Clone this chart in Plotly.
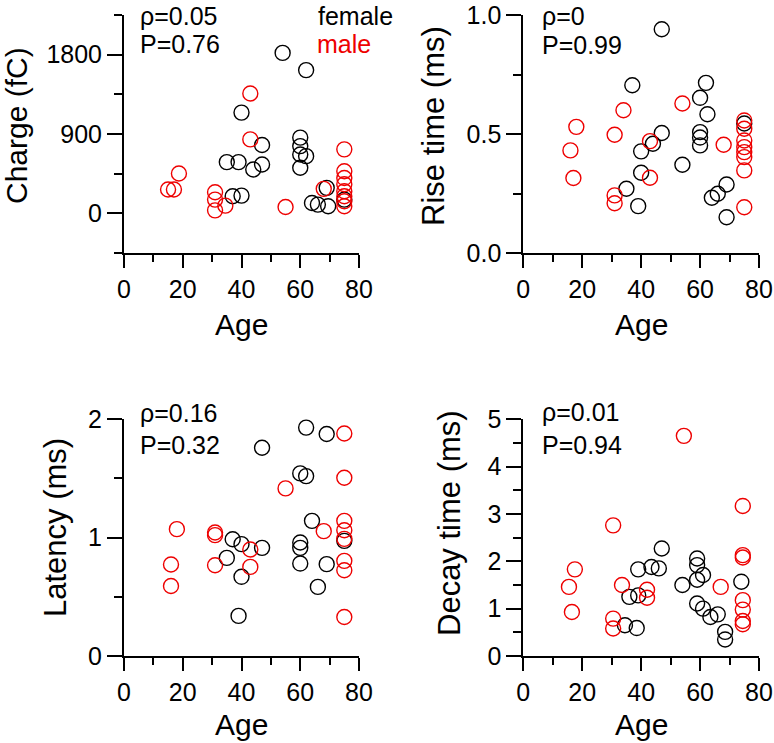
import plotly.graph_objects as go

# ---------------- data ----------------
# Panel A: Charge (fC)
charge_age_f = [54, 62, 40, 60, 60, 60, 62, 60, 47, 35, 39, 47, 44, 37, 40, 64, 66, 69.5, 69, 75]
charge_f = [1820, 1625, 1143, 859, 763, 668, 649, 517, 775, 581, 581, 554, 497, 194, 201, 118, 99, 80, 289, 156]
charge_age_m = [15, 17, 18.7, 31, 31, 31, 34.5, 43, 43, 55, 68, 75, 75, 75, 75, 75, 75, 75, 75]
charge_m = [270, 270, 452, 239, 156, 34, 87, 1359, 839, 72, 278, 726, 478, 400, 330, 251, 194, 137, 80]

# Panel B: Rise time (ms)
rise_age_f = [47, 37, 62, 60, 62.5, 60, 60, 60, 47, 44, 40, 40, 35, 39, 54, 64, 66, 69, 69, 75]
rise_f = [0.94, 0.705, 0.715, 0.652, 0.583, 0.508, 0.485, 0.452, 0.504, 0.459, 0.427, 0.337,
          0.27, 0.197, 0.371, 0.232, 0.249, 0.288, 0.15, 0.544]
rise_age_m = [16, 18, 17, 31, 34, 31, 31, 43, 43, 54, 68, 75, 75, 75, 75, 75, 75, 75, 75]
rise_m = [0.431, 0.53, 0.315, 0.497, 0.6, 0.242, 0.209, 0.47, 0.316, 0.628, 0.455,
          0.557, 0.522, 0.473, 0.445, 0.424, 0.403, 0.347, 0.192]

# Panel C: Latency (ms)
lat_age_f = [62, 69, 47, 60, 62, 64, 37, 40, 47, 35, 60, 60, 60, 69, 40, 66, 39, 75]
lat_f = [1.93, 1.876, 1.76, 1.543, 1.52, 1.142, 0.987, 0.945, 0.914, 0.829, 0.959, 0.914,
         0.781, 0.776, 0.669, 0.584, 0.339, 0.973]
lat_age_m = [16, 16, 18, 31, 31, 31, 43, 43, 55, 68, 75, 75, 75, 75, 75, 75, 75, 75]
lat_m = [0.773, 0.592, 1.072, 1.044, 1.021, 0.767, 0.9, 0.753, 1.416, 1.055,
         1.88, 1.506, 1.142, 1.063, 0.99, 0.804, 0.725, 0.33]

# Panel D: Decay time (ms)
decay_age_f = [47, 59, 59, 59, 61, 39, 43.5, 46, 54, 36, 39, 59, 61, 63.5, 66, 34.5, 38.5, 68.5, 68.5, 74]
decay_f = [2.27, 2.06, 1.92, 1.61, 1.71, 1.83, 1.88, 1.85, 1.5, 1.25, 1.28, 1.11, 1.0,
           0.825, 0.88, 0.65, 0.59, 0.51, 0.35, 1.57]
decay_age_m = [54.5, 74.5, 30.5, 74.5, 74.5, 17.5, 15.5, 16.5, 33.5, 30.5, 30.5, 42, 42, 67,
               74.5, 74.5, 74.5, 74.5]
decay_m = [4.65, 3.17, 2.76, 2.13, 2.08, 1.83, 1.46, 0.93, 1.5, 0.79, 0.58, 1.4, 1.23, 1.46,
           1.18, 0.98, 0.74, 0.67]

stats_text = [("ρ=0.05", "P=0.76"), ("ρ=0", "P=0.99"), ("ρ=0.16", "P=0.32"), ("ρ=0.01", "P=0.94")]
y_titles = ["Charge (fC)", "Rise time (ms)", "Latency (ms)", "Decay time (ms)"]
x_title = "Age"
x_ticks = [0, 20, 40, 60, 80]

# ---------------- styling ----------------
W, H = 774, 743
FONT = "Liberation Sans, Arial, sans-serif"
RED = "#ee0000"
BLACK = "#000000"


def px(x):
    return x / W


def py(y):
    return 1 - y / H


fig = go.Figure()

panels = [
    (charge_age_f, charge_f, charge_age_m, charge_m),
    (rise_age_f, rise_f, rise_age_m, rise_m),
    (lat_age_f, lat_f, lat_age_m, lat_m),
    (decay_age_f, decay_f, decay_age_m, decay_m),
]

for i, (xf, yf, xm, ym) in enumerate(panels):
    s = "" if i == 0 else str(i + 1)
    for xs, ys, col in ((xf, yf, BLACK), (xm, ym, RED)):
        fig.add_trace(go.Scatter(
            x=xs, y=ys, mode="markers", xaxis="x" + s, yaxis="y" + s,
            marker=dict(symbol="circle-open", size=15, color=col, line=dict(width=1.4, color=col)),
            showlegend=False, cliponaxis=False, hoverinfo="skip",
        ))

x_left = [px(124), px(359)]
x_right = [px(523.3), px(759)]
y_top = [py(253), py(15)]
y_bot = [py(656), py(419.3)]


def xaxis(domain, anchor):
    return dict(
        domain=domain, anchor=anchor, range=[0, 80], tickvals=x_ticks, automargin=False,
        ticks="outside", ticklen=13, tickwidth=2, tickcolor="black",
        showline=True, linewidth=2, linecolor="black", showgrid=False, zeroline=False,
        tickfont=dict(family=FONT, size=25, color="black"),
        minor=dict(tickvals=[10, 30, 50, 70], ticks="outside", ticklen=7, tickwidth=2,
                   tickcolor="black", showgrid=False),
    )


def yaxis(domain, anchor, rng, tv, tt, minor_vals):
    return dict(
        domain=domain, anchor=anchor, range=rng, tickvals=tv, ticktext=tt, automargin=False,
        ticks="outside", ticklen=15, tickwidth=2, tickcolor="black",
        showline=True, linewidth=2, linecolor="black", showgrid=False, zeroline=False,
        tickfont=dict(family=FONT, size=25, color="black"),
        minor=dict(tickvals=minor_vals, ticks="outside", ticklen=8, tickwidth=2,
                   tickcolor="black", showgrid=False),
    )


fig.update_layout(
    width=W, height=H, margin=dict(l=0, r=0, t=0, b=0, pad=0, autoexpand=False),
    paper_bgcolor="white", plot_bgcolor="white", showlegend=False,
    font=dict(family=FONT, color="black"),
    xaxis=xaxis(x_left, "y"),
    yaxis=yaxis(y_top, "x", [-450, 2250], [0, 900, 1800], ["0", "900", "1800"], [-450, 450, 1350, 2250]),
    xaxis2=xaxis(x_right, "y2"),
    yaxis2=yaxis(y_top, "x2", [0, 1], [0, 0.5, 1], ["0.0", "0.5", "1.0"], [0.25, 0.75]),
    xaxis3=xaxis(x_left, "y3"),
    yaxis3=yaxis(y_bot, "x3", [0, 2], [0, 1, 2], ["0", "1", "2"], [0.5, 1.5]),
    xaxis4=xaxis(x_right, "y4"),
    yaxis4=yaxis(y_bot, "x4", [0, 5], [0, 1, 2, 3, 4, 5], ["0", "1", "2", "3", "4", "5"],
                 [0.5, 1.5, 2.5, 3.5, 4.5]),
)

ann = []
# y-axis titles
ytitle_pos = [(17, 126, 30), (434, 126, 31), (55, 528, 31), (449, 523, 31)]
for t, (x, y, fs) in zip(y_titles, ytitle_pos):
    ann.append(dict(x=px(x), y=py(y), xref="paper", yref="paper", text=t, showarrow=False,
                    textangle=-90, xanchor="center", yanchor="middle",
                    font=dict(family=FONT, size=fs, color="black")))
# x-axis titles
for x, y in [(241.5, 324), (641, 324), (241.5, 724), (641, 724)]:
    ann.append(dict(x=px(x), y=py(y), xref="paper", yref="paper", text=x_title, showarrow=False,
                    xanchor="center", yanchor="middle",
                    font=dict(family=FONT, size=30, color="black")))
# statistics text (top row of each panel anchored at the text top)
stat_pos = [(138, None, 44), (540, None, 45), (138, 413, 445), (540, 412, 445)]
for (r, p), (x, y1, y2) in zip(stats_text, stat_pos):
    if y1 is None:
        ann.append(dict(x=px(x), y=1, xref="paper", yref="paper", text=r, showarrow=False,
                        xanchor="left", yanchor="top",
                        font=dict(family=FONT, size=25, color="black")))
    else:
        ann.append(dict(x=px(x), y=py(y1), xref="paper", yref="paper", text=r, showarrow=False,
                        xanchor="left", yanchor="middle",
                        font=dict(family=FONT, size=25, color="black")))
    ann.append(dict(x=px(x), y=py(y2), xref="paper", yref="paper", text=p, showarrow=False,
                    xanchor="left", yanchor="middle",
                    font=dict(family=FONT, size=25, color="black")))
# sex labels
ann.append(dict(x=px(316), y=1, xref="paper", yref="paper", text="female", showarrow=False,
                xanchor="left", yanchor="top", font=dict(family=FONT, size=25, color=BLACK)))
ann.append(dict(x=px(315), y=py(44), xref="paper", yref="paper", text="male", showarrow=False,
                xanchor="left", yanchor="middle", font=dict(family=FONT, size=25, color=RED)))
fig.update_layout(annotations=ann)

fig.write_html("out.html", config={"displayModeBar": False, "staticPlot": True},
               post_script="document.body.style.margin='0px';")
